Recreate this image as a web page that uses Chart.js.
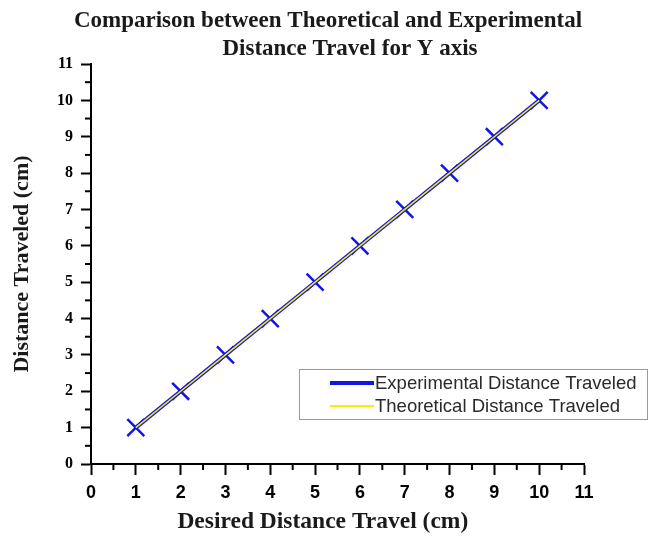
<!DOCTYPE html>
<html><head><meta charset="utf-8">
<script src="https://cdn.jsdelivr.net/npm/chart.js@4.4.0/dist/chart.umd.min.js"></script>
<style>html,body{margin:0;padding:0;background:#fff}canvas{display:block}</style>
</head><body>
<canvas id="c" width="654" height="537"></canvas>
<script>
// ---- data ----
const desired = [1, 2, 3, 4, 5, 6, 7, 8, 9, 10];
const experimental = [1, 2, 3, 4, 5, 6, 7, 8, 9, 10];
const theoretical = [1, 2, 3, 4, 5, 6, 7, 8, 9, 10];
const minorTicks = [0.5, 1.5, 2.5, 3.5, 4.5, 5.5, 6.5, 7.5, 8.5, 9.5, 10.5];
const titleLines = ['Comparison between Theoretical and Experimental', 'Distance Travel for Y axis'];
const seriesNames = ['Experimental Distance Traveled', 'Theoretical Distance Traveled'];
const xTitle = 'Desired Distance Travel (cm)';
const yTitle = 'Distance Traveled (cm)';

const BLUE = '#1414e6';
const YELLOW = '#f2f200';

const titlePlugin = {
  id: 'twoLineTitle',
  afterDraw(chart) {
    const ctx = chart.ctx;
    ctx.save();
    ctx.font = 'bold 23px "Liberation Serif"';
    ctx.fillStyle = '#1a1a1a';
    ctx.textAlign = 'center';
    ctx.textBaseline = 'alphabetic';
    ctx.fillText(titleLines[0], 328, 27);
    ctx.fillText(titleLines[1], 350, 55);
    ctx.restore();
  }
};

const minorPlugin = {
  id: 'minorTicks',
  afterDraw(chart) {
    const {ctx, scales: {x, y}} = chart;
    ctx.save();
    ctx.strokeStyle = '#000';
    ctx.lineWidth = 2;
    minorTicks.forEach(v => {
      const px = x.getPixelForValue(v);
      ctx.beginPath(); ctx.moveTo(px, x.top); ctx.lineTo(px, x.top + 6); ctx.stroke();
      const py = y.getPixelForValue(v);
      ctx.beginPath(); ctx.moveTo(y.right - 6, py); ctx.lineTo(y.right, py); ctx.stroke();
    });
    ctx.restore();
  }
};

const legendPlugin = {
  id: 'boxLegend',
  afterDraw(chart) {
    const ctx = chart.ctx;
    ctx.save();
    ctx.strokeStyle = '#9a9a9a';
    ctx.lineWidth = 1;
    ctx.strokeRect(299.5, 369.5, 348, 50);
    const ds = chart.data.datasets;
    const rows = [ds[0], ds[1]];
    const widths = [4, 2];
    rows.forEach((d, i) => {
      const yy = 383 + i * 23;
      ctx.strokeStyle = d.borderColor;
      ctx.lineWidth = widths[i];
      ctx.beginPath(); ctx.moveTo(330, yy); ctx.lineTo(374, yy); ctx.stroke();
      ctx.fillStyle = '#2a2a2a';
      ctx.font = '18.5px "Liberation Sans"';
      ctx.textAlign = 'left';
      ctx.textBaseline = 'middle';
      ctx.fillText(d.label, 375, yy + 1);
    });
    ctx.restore();
  }
};

new Chart(document.getElementById('c'), {
  type: 'line',
  data: {
    datasets: [
      {
        label: seriesNames[0],
        data: desired.map((x, i) => ({x, y: experimental[i]})),
        borderColor: BLUE,
        backgroundColor: BLUE,
        borderWidth: 4,
        pointStyle: 'crossRot',
        pointRadius: 12,
        pointBorderWidth: 2.5,
        pointBorderColor: BLUE,
        order: 1
      },
      {
        label: seriesNames[1],
        data: desired.map((x, i) => ({x, y: theoretical[i]})),
        borderColor: YELLOW,
        backgroundColor: YELLOW,
        borderWidth: 1.5,
        pointRadius: 0,
        order: 0
      }
    ]
  },
  options: {
    responsive: false,
    devicePixelRatio: 1,
    animation: false,
    layout: {padding: {top: 64, right: 70, left: 0, bottom: 0}},
    plugins: {legend: {display: false}, tooltip: {enabled: false}, title: {display: false}},
    scales: {
      x: {
        type: 'linear', min: 0, max: 11,
        afterFit(s) { s.height = 73; },
        ticks: {stepSize: 1, autoSkip: false, maxRotation: 0, color: '#000', padding: 7,
          font: {family: 'Liberation Sans', size: 18, weight: 'bold'}},
        grid: {drawOnChartArea: false, tickLength: 11, tickWidth: 2, tickColor: '#000'},
        border: {color: '#000', width: 2},
        title: {display: true, text: xTitle + '\u00a0\u00a0\u00a0\u00a0\u00a0', color: '#1a1a1a',
          font: {family: 'Liberation Serif', size: 23.5, weight: 'bold', lineHeight: 1.2},
          padding: {top: 0, bottom: 1}}
      },
      y: {
        type: 'linear', min: 0, max: 11,
        afterFit(s) { s.width = 91; },
        ticks: {stepSize: 1, autoSkip: false, color: '#000', padding: 8,
          font: {family: 'Liberation Serif', size: 16, weight: 'bold'}},
        grid: {drawOnChartArea: false, tickLength: 10, tickWidth: 2, tickColor: '#000'},
        border: {color: '#000', width: 2},
        title: {display: true, text: yTitle, color: '#1a1a1a',
          font: {family: 'Liberation Serif', size: 22, weight: 'bold', lineHeight: 1.2},
          padding: {top: 9, bottom: 0}}
      }
    }
  },
  plugins: [titlePlugin, minorPlugin, legendPlugin]
});
</script>
</body></html>
